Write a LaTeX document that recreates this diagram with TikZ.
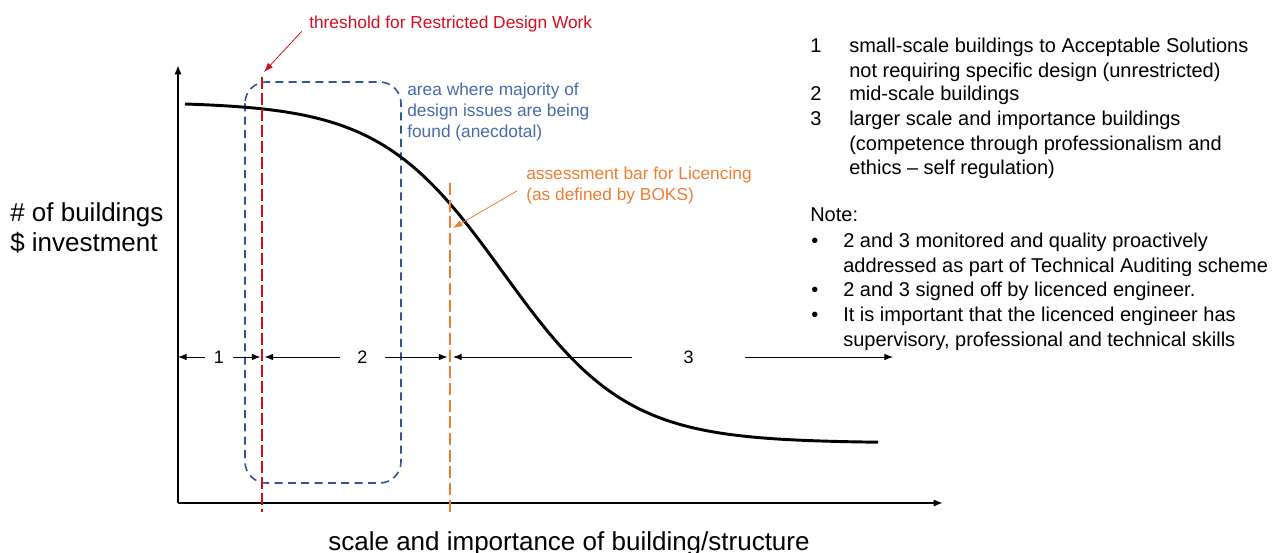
\documentclass[tikz,border=0pt]{standalone}
\usepackage{fontspec}
\setmainfont{Liberation Sans}
\usetikzlibrary{arrows.meta}

\definecolor{restrictred}{RGB}{214,12,32}
\definecolor{areablue}{RGB}{47,85,151}
\definecolor{areatext}{RGB}{72,106,170}
\definecolor{boksorange}{RGB}{237,125,49}

\begin{document}
\begin{tikzpicture}[x=0.75pt, y=-0.75pt,
    axis/.style={line width=1.5pt, -{Latex[length=7pt,width=5.5pt]}},
    curve/.style={line width=2.2pt},
    dimarrow/.style={line width=0.75pt, -{Latex[length=6.5pt,width=5pt]}},
    seglabel/.style={font=\fontsize{13.5}{16}\selectfont, inner sep=0pt, minimum height=12pt},
    textlabel/.style={inner sep=0pt, anchor=north west, align=left},
    legend/.style={textlabel, font=\fontsize{15}{18.3}\selectfont},
    remark/.style={textlabel, font=\fontsize{13}{15.5}\selectfont},
    axislabel/.style={inner sep=0pt, font=\fontsize{19.5}{22.5}\selectfont}]

    % Page size (reference pixels)
    \useasboundingbox (0,0) rectangle (1281,553);

    \def\xo{178}    % origin, x
    \def\yo{503}    % origin, y
    \def\yrow{357}  % row of the scale ranges
    \def\xred{262}  % restricted design work
    \def\xbar{450}  % licencing bar

    % Axes
    \coordinate (O) at (\xo,\yo);
    \coordinate (ytop) at (\xo,65);
    \coordinate (xend) at (943,\yo);
    \draw[axis] (O) -- (ytop);
    \draw[axis] (O) -- (xend);

    \node[axislabel, anchor=north west, align=left] (ylab) at (10,202)
        {\# of buildings\\ \$ investment};
    \node[axislabel, anchor=base] (xlab) at (569,550)
        {scale and importance of building/structure};

    % Area box
    \draw[areablue, line width=1.2pt, dash pattern=on 6pt off 4pt,
        rounded corners=16pt] (245,82) rectangle (401,483);
    \node[remark, text=areatext] (area) at (407,83)
        {area where majority of\\ design issues are being\\ found (anecdotal)};

    % Building curve
    \draw[curve] plot[domain=185:878, samples=140]
        (\x, {102+341/(1+exp(-(\x-503)/62))});

    % Threshold lines
    \draw[restrictred, line width=1.5pt, dash pattern=on 9pt off 3pt]
        (\xred,77) coordinate (redtop) -- (\xred,512);
    \draw[boksorange, line width=1.5pt, dash pattern=on 9pt off 3.5pt]
        (\xbar,183) coordinate (orangetop) -- (\xbar,512);

    \node[remark, anchor=base west, text=restrictred] (restrict) at (309,28)
        {threshold for Restricted Design Work};
    \coordinate (restricttip) at (264,72);
    \draw[restrictred, line width=0.6pt, -{Latex[length=7pt,width=5pt]},
        shorten <=8pt] (restrict.west) -- (restricttip);

    \node[remark, text=boksorange] (boks) at (526,167)
        {assessment bar for Licencing\\ (as defined by BOKS)};
    \coordinate (bokstip) at (453,228);
    \draw[boksorange, line width=0.6pt, -{Latex[length=7pt,width=5pt]},
        shorten <=8pt] (boks.west) -- (bokstip);

    % Scale ranges
    \foreach \n/\xc/\w/\xl/\xr in {1/219/27/178/260.5, 2/362.5/45/264.5/447.5, 3/688.5/113/453/893}{
        \node[seglabel, minimum width=\w*0.75pt] (seg\n) at (\xc,\yrow) {\n};
        \coordinate (segL\n) at (\xl,\yrow);
        \coordinate (segR\n) at (\xr,\yrow);
        \draw[dimarrow] (seg\n.west) -- (segL\n);
        \draw[dimarrow] (seg\n.east) -- (segR\n);
    }

    % Legend
    \node[legend] (num1) at (810,38) {1};
    \node[legend] (item1) at (849,38)
        {small-scale buildings to Acceptable Solutions\\ not requiring specific design (unrestricted)};
    \node[legend] (num2) at (810,86) {2};
    \node[legend] (item2) at (849,86) {mid-scale buildings};
    \node[legend] (num3) at (810,111) {3};
    \node[legend] (item3) at (849,111)
        {larger scale and importance buildings\\ (competence through professionalism and\\ ethics -- self regulation)};

    \node[legend] (note) at (810,207) {Note:};
    \node[legend] (dot1) at (811,233) {\vphantom{d}\textbullet};
    \node[legend] (note1) at (843,233)
        {2 and 3 monitored and quality proactively\\ addressed as part of Technical Auditing scheme};
    \node[legend] (dot2) at (811,282) {\vphantom{d}\textbullet};
    \node[legend] (note2) at (843,282) {2 and 3 signed off by licenced engineer.};
    \node[legend] (dot3) at (811,307) {\vphantom{d}\textbullet};
    \node[legend] (note3) at (843,307)
        {It is important that the licenced engineer has\\ supervisory, professional and technical skills};

\end{tikzpicture}
\end{document}
